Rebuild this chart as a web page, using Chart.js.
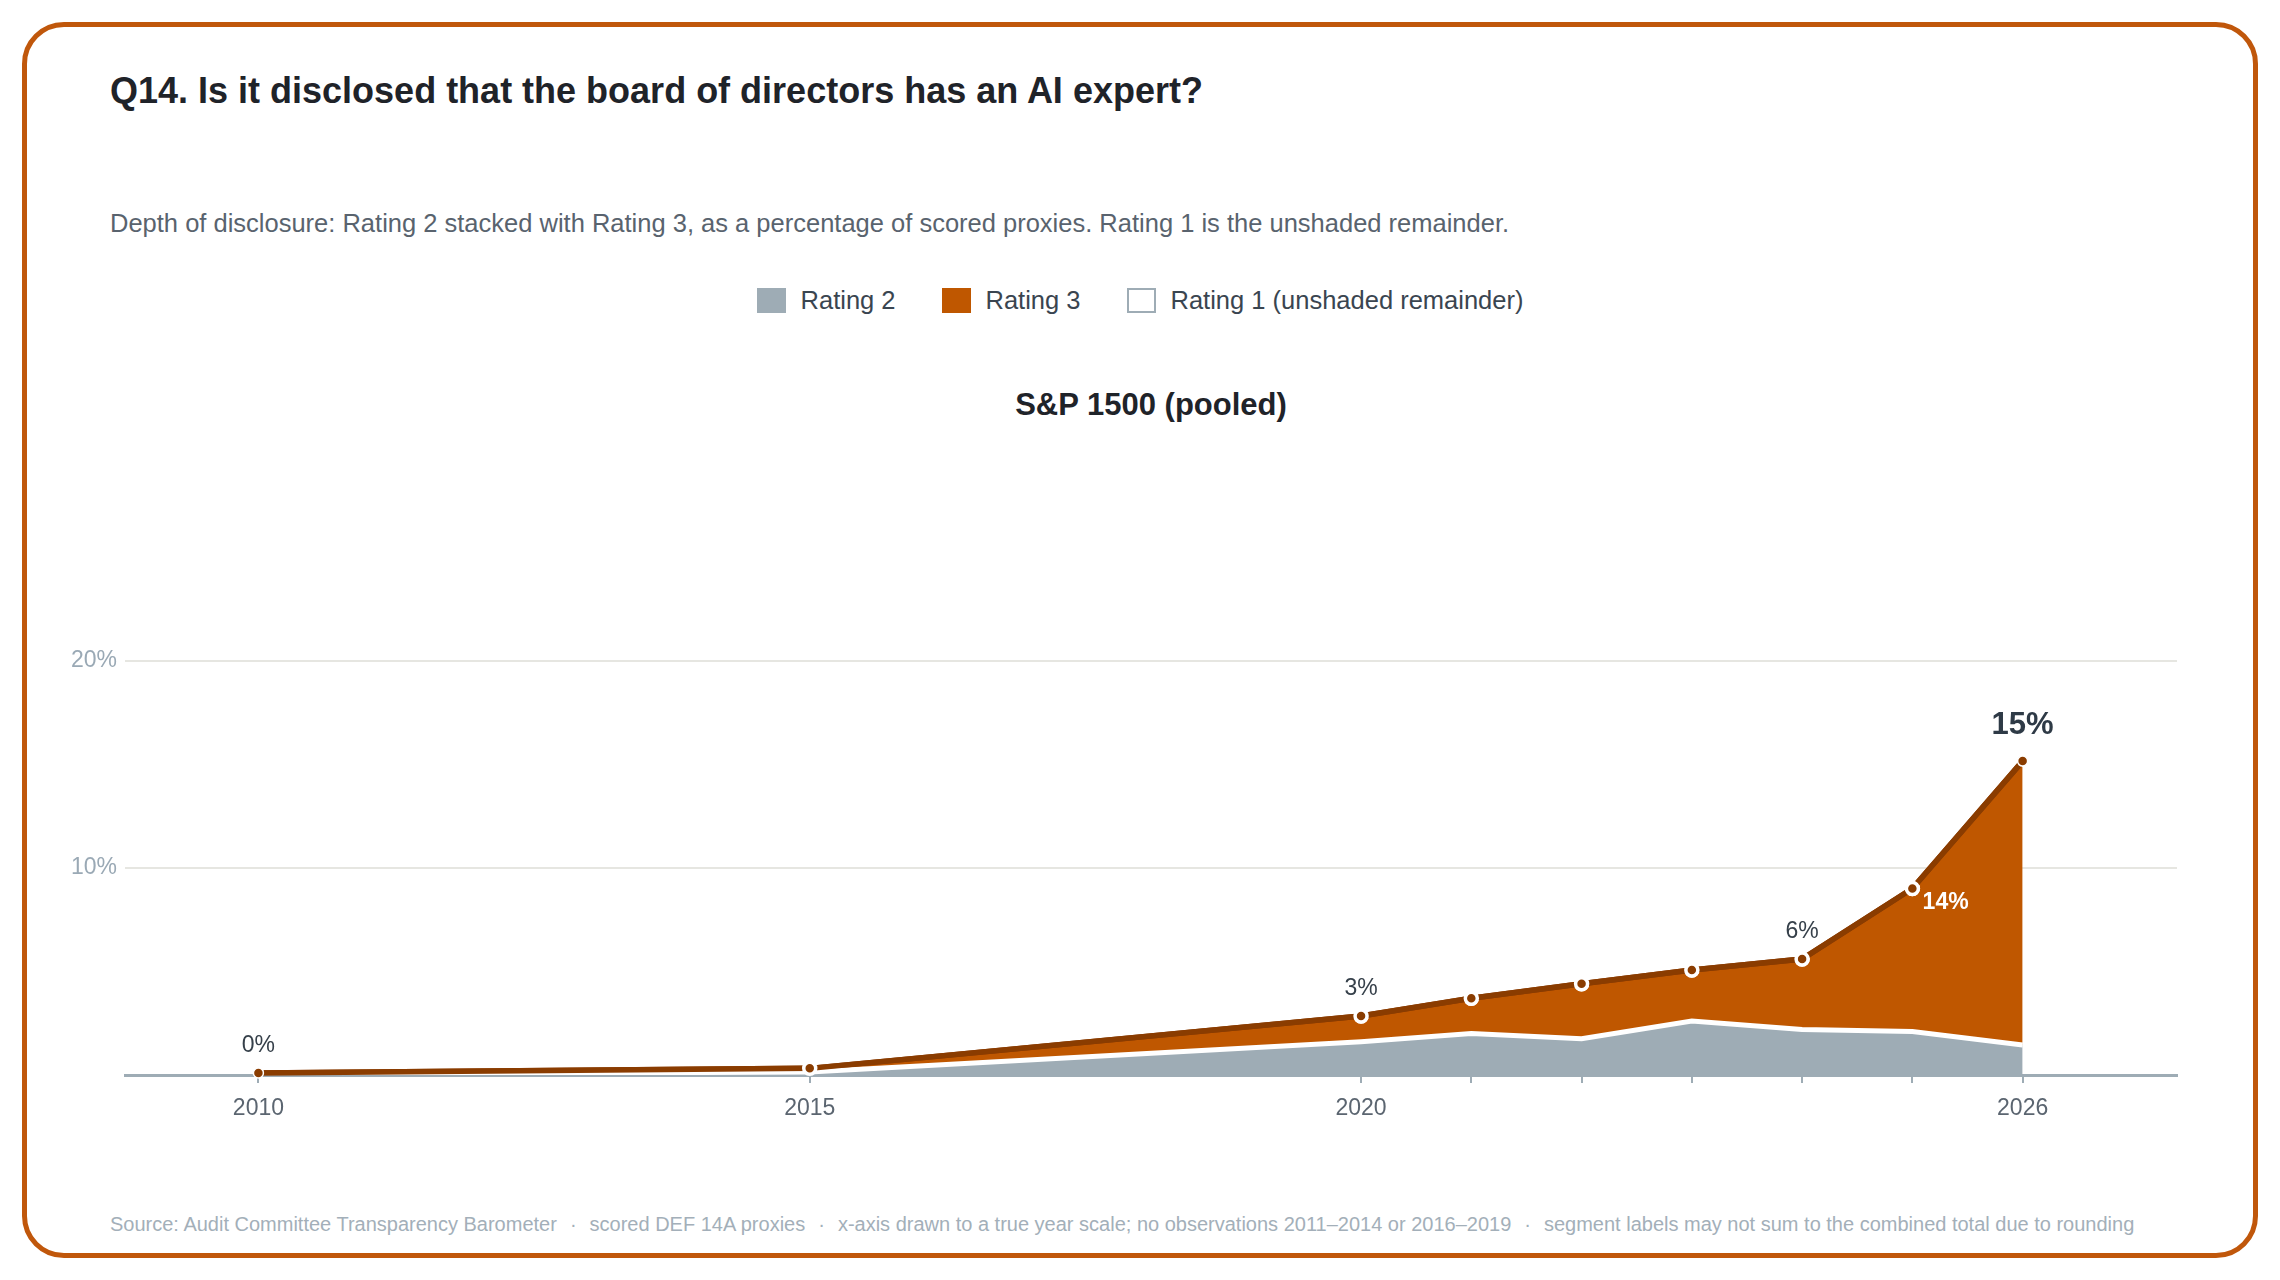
<!DOCTYPE html>
<html>
<head>
<meta charset="utf-8">
<title>Q14 AI expert on board</title>
<script src="https://cdn.jsdelivr.net/npm/chart.js@4.4.1/dist/chart.umd.min.js"></script>
<style>
  html, body { margin: 0; padding: 0; background: #fff; }
  body { width: 2280px; height: 1280px; position: relative; overflow: hidden;
         font-family: 'Liberation Sans', Arial, sans-serif; }
  .card { position: absolute; left: 22px; top: 22px; width: 2236px; height: 1236px;
          box-sizing: border-box; border: 5px solid #c0570b; border-radius: 42px; background: #fff; }
  .txt { position: absolute; margin: 0; line-height: 1; white-space: pre; }
  #title { left: 110px; top: 73px; font-size: 36px; font-weight: bold; color: #1f2329; }
  #subtitle { left: 110px; top: 211px; font-size: 25.5px; color: #59636e; }
  #legend { position: absolute; left: 22px; width: 2236px; top: 288px; display: flex;
            justify-content: center; align-items: center; font-size: 25.5px; line-height: 1; color: #3a4550; }
  #legend .item { display: flex; align-items: center; margin: 0 23px; }
  #legend .sw { width: 29px; height: 25px; box-sizing: border-box; margin-right: 15px; }
  #panel { left: 0; width: 2302px; text-align: center; top: 389px; font-size: 31px; font-weight: bold; color: #1f2329; }
  #footer { left: 110px; top: 1214px; font-size: 20px; color: #a3afb9; }
  #footer .sep { margin: 0 13px; }
  #wrap { position: absolute; left: 0; top: 0; width: 2280px; height: 1280px; }
</style>
</head>
<body>
<div class="card"></div>
<h1 class="txt" id="title">Q14. Is it disclosed that the board of directors has an AI expert?</h1>
<p class="txt" id="subtitle">Depth of disclosure: Rating 2 stacked with Rating 3, as a percentage of scored proxies. Rating 1 is the unshaded remainder.</p>
<div id="legend">
  <div class="item"><span class="sw" style="background:#9eacb5"></span>Rating 2</div>
  <div class="item"><span class="sw" style="background:#bf5700"></span>Rating 3</div>
  <div class="item"><span class="sw" style="background:#fff;border:2.5px solid #9eacb5"></span>Rating 1 (unshaded remainder)</div>
</div>
<div class="txt" id="panel">S&amp;P 1500 (pooled)</div>
<p class="txt" id="footer">Source: Audit Committee Transparency Barometer<span class="sep">·</span>scored DEF 14A proxies<span class="sep">·</span>x-axis drawn to a true year scale; no observations 2011–2014 or 2016–2019<span class="sep">·</span>segment labels may not sum to the combined total due to rounding</p>
<div id="wrap"><canvas id="chart"></canvas></div>

<script>
// --- data (percent of scored proxies) ---
const years   = [2010, 2015, 2020, 2021, 2022, 2023, 2024, 2025, 2026];
const rating2 = [0.0, 0.15, 1.6, 2.0, 1.75, 2.6, 2.2, 2.1, 1.45];
const rating3 = [0.1, 0.17, 1.25, 1.7, 2.65, 2.47, 3.4, 6.9, 13.7];

const yTicks = [0, 10, 20];                       // gridlines
const xLabelYears = [2010, 2015, 2020, 2026];     // years that get a tick label
const totalLabelYears = [2010, 2020, 2024, 2026]; // combined-total labels
const segmentLabelYear = 2026;                    // Rating 3 segment label

const C = {
  gray: '#9eacb5', orange: '#bf5700', brown: '#8a3c00', grid: '#e6e6e1',
  yTick: '#9aa9b5', xTick: '#5b6570', label: '#36404a', big: '#2e3a46',
};
const FONT = "'Liberation Sans', Arial, sans-serif";
Chart.defaults.font.family = FONT;

const pts = (vals) => years.map((yr, i) => ({ x: yr, y: vals[i] }));
const isEnd = (c) => c.dataIndex === 0 || c.dataIndex === years.length - 1;

/* Top series redrawn over the white separator, then the value labels. */
const overlay = {
  id: 'overlay',
  afterDatasetsDraw(chart) {
    chart.getDatasetMeta(1).controller.draw();
    const { ctx, scales: { x, y } } = chart;
    const last = years.length - 1;
    ctx.save();
    ctx.textAlign = 'center';
    ctx.textBaseline = 'middle';
    years.forEach((yr, i) => {
      if (!totalLabelYears.includes(yr)) return;
      const total = rating2[i] + rating3[i];
      const px = x.getPixelForValue(yr);
      const py = y.getPixelForValue(total);
      const big = i === last;
      ctx.font = big ? 'bold 31px ' + FONT : '23px ' + FONT;
      ctx.fillStyle = big ? C.big : C.label;
      ctx.fillText(Math.round(total) + '%', px, py - (big ? 36 : 27));
    });
    const si = years.indexOf(segmentLabelYear);
    const mid = rating2[si] + rating3[si] / 2;
    ctx.font = 'bold 23px ' + FONT;
    ctx.fillStyle = '#fff';
    ctx.textAlign = 'right';
    ctx.fillText(Math.round(rating3[si]) + '%', x.getPixelForValue(segmentLabelYear) - 54, y.getPixelForValue(mid));
    ctx.restore();
  },
};

new Chart(document.getElementById('chart'), {
  type: 'line',
  data: {
    datasets: [
      {
        label: 'Rating 2', data: pts(rating2), fill: 'origin',
        backgroundColor: C.gray, borderColor: '#fff', borderWidth: 5,
        pointRadius: 0, tension: 0,
      },
      {
        label: 'Rating 3', data: pts(rating3), fill: '-1',
        backgroundColor: C.orange, borderColor: C.brown, borderWidth: 5.5,
        tension: 0,
        pointRadius: (c) => (isEnd(c) ? 5 : 6),
        pointBorderWidth: (c) => (isEnd(c) ? 1.5 : 3.5),
        pointBackgroundColor: C.brown, pointBorderColor: '#fff',
      },
    ],
  },
  options: {
    responsive: true, maintainAspectRatio: false, animation: false,
    layout: { padding: { left: 0, right: 103, top: 557, bottom: 145 } },
    plugins: { legend: { display: false }, tooltip: { enabled: false } },
    scales: {
      x: {
        type: 'linear', min: 2008.79, max: 2027.4, z: 1,
        afterFit: (s) => { s.height = 60; },
        afterBuildTicks: (s) => { s.ticks = years.map((v) => ({ value: v })); },
        grid: { drawOnChartArea: false, drawTicks: true, tickLength: 8, color: C.gray, lineWidth: 2 },
        border: { display: true, color: C.gray, width: 3 },
        ticks: {
          autoSkip: false, maxRotation: 0, padding: 12, color: C.xTick, font: { size: 23 },
          callback: (v) => (xLabelYears.includes(v) ? String(v) : ''),
        },
      },
      y: {
        stacked: true, min: 0, max: 25,
        afterFit: (s) => { s.width = 125; },
        afterBuildTicks: (s) => { s.ticks = yTicks.map((v) => ({ value: v })); },
        grid: { drawTicks: false, lineWidth: 2, color: (c) => (c.tick && c.tick.value === 0 ? 'rgba(0,0,0,0)' : C.grid) },
        border: { display: false },
        ticks: { padding: 8, color: C.yTick, font: { size: 23 }, callback: (v) => (v === 0 ? '' : v + '%') },
      },
    },
  },
  plugins: [overlay],
});
</script>
</body>
</html>
